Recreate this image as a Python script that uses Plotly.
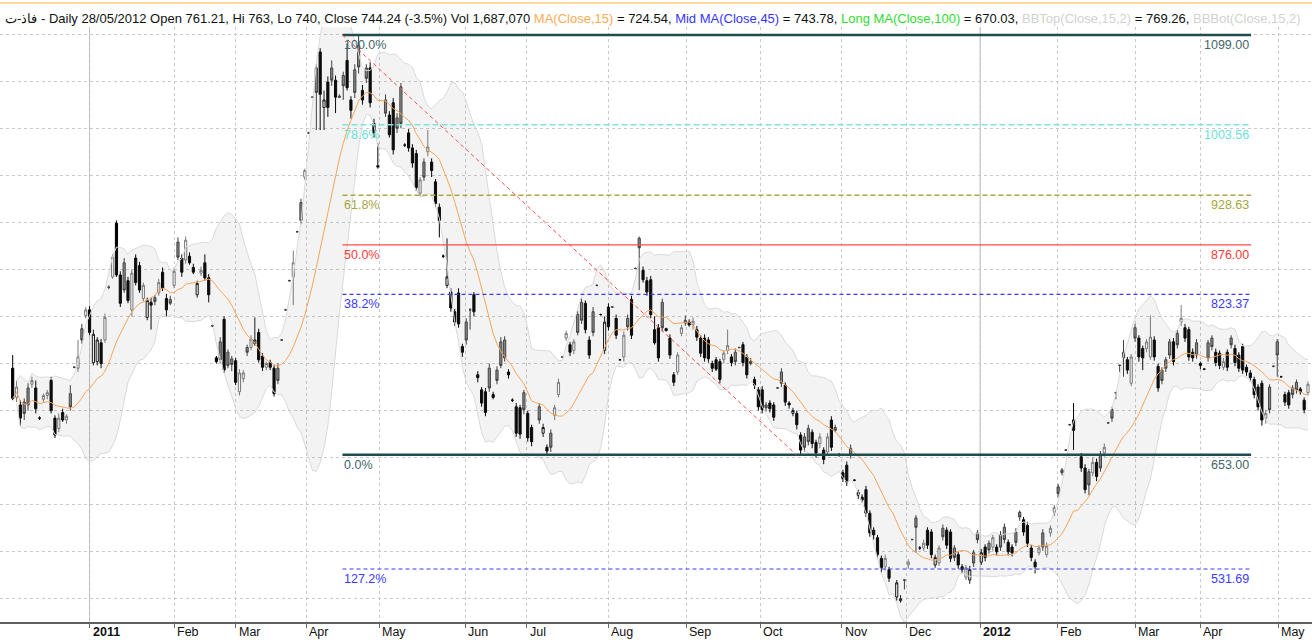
import numpy as np
import pandas as pd
import plotly.graph_objects as go

# ---------------- data: daily candles (trading-day index) ----------------
opens = [
    745, 714, 706, 709, 724, 728, 724, 692, 712, 716, 732, 692, 681, 698, 690, 718, 746, 745, 787, 801,
    807, 751, 752, 772, 775, 831, 842, 899, 844, 857, 838, 807, 862, 854, 819, 799, 815, 820, 825, 847, 819, 818, 833,
    879, 862, 860, 864, 852, 823, 846, 857, 841, 790, 756, 773, 797, 762, 755, 753,
    720, 734, 767, 767, 771, 783, 758, 746, 751, 745, 745, 775, 807, 838, 842, 890, 921, 948, 995,
    1033, 1064, 1081, 1022, 1049, 1064, 1051, 1034, 1056, 1072, 1030, 1062, 1088, 1040, 1064, 1064, 1005, 960,
    None, 1030, 1014, 1027, 1011, 1044, 982, 995, 979, 973, 931, 964, 975, 964, 943, 916, 864, 833, 826, 805, 825,
    768, 794, 807, 823, 738, 722, 720, 745, 717, 743, 773, 775, 741, 711, 704, 703, 719, 697, 682,
    None,
    704, 676, 661, 676, 695, 717, 757, 777, 770, 764, 802, 815, 814, 775, 805, 833, 802, 764, 810, 810, 798, 754, 757, 798, 818, 851,
    883, 849, 838, 839, 786, 788, 815, 787, 777, 738, 741, 782, 796, 794, 791, 786, 777, 777, 775, 750,
    754, 752, 754, 764, 757, 762, 767, 770, 757, 752, 733, 722, 722, 706, 708, 706, 724, 741, 727, 708, 697, 697, 674,
    672, 681, 677, 666, 665, 658, 656, 690, 682, 653, 634, 642, 660, 626, 610, 608, 616, 591, 573, 565, 543, 534, 531,
    None,
    502, 498, 520, 536, 563, 586, 554, 554, 573, 571, 536, 538, 575, 573, 571, 554, 547, 534, 523, 520, 549, 570,
    539, 555, 559, 555, 555, 568, 576, 560, 555, 571, 592, 584, 578, 554, 539, 549, 570, 547, 570, 592, 619, 637, 658, 685, 690,
    None,
    651, 639, 635, 634, 645, 653, 655, 687, 701, 719, 748, 762, 754, 729, 788, 777, 766, 766, 757, 775,
    747, 743, 754, 773, 773, 782, 794, 788, 786, 762, 772, 750, 744, 772, 777, 762, 761, 746, 762, 777,
    766, 759, 768, 746, 740, 733, 725, 729, 692, 725, 747, 773, 736, 717, 719, 724, 730, 723, 711, 719,
]
highs = [
    759, 732, 711, 713, 729, 736, 732, 694, 718, 722, 736, 695, 697, 702, 696, 727, 747, 775, 792, 810,
    811, 786, 778, 776, 803, 833, 866, 902, 848, 862, 842, 850, 866, 858, 836, 820, 820, 823, 840, 852, 824, 822, 852,
    884, 866, 885, 868, 856, 838, 853, 866, 845, 791, 758, 778, 800, 765, 758, 756,
    744, 743, 770, 780, 799, 787, 761, 752, 754, 748, 750, 776, 808, 839, 870, 891, 925, 957, 996,
    1034, 1068, 1085, 1040, 1055, 1072, 1056, 1036, 1060, 1090, 1034, 1068, 1099, 1046, 1068, 1070, 1010, 984,
    None, 1036, 1018, 1032, 1016, 1048, 984, 999, 983, 977, 948, 968, 998, 968, 946, 920, 866, 883, 830, 808, 830,
    771, 798, 809, 826, 742, 725, 724, 750, 720, 747, 778, 779, 744, 713, 708, 706, 722, 700, 685,
    None,
    708, 686, 664, 680, 706, 734, 758, 785, 773, 776, 806, 819, 817, 779, 810, 834, 803, 800, 814, 811, 802, 755, 784, 802, 822, 852,
    885, 853, 842, 843, 800, 792, 819, 788, 781, 741, 762, 791, 801, 797, 799, 790, 780, 781, 778, 753,
    757, 755, 764, 786, 760, 766, 768, 773, 760, 756, 736, 725, 726, 709, 711, 709, 725, 745, 730, 710, 703, 700, 677,
    676, 685, 680, 669, 676, 661, 676, 694, 685, 655, 637, 646, 664, 627, 616, 611, 620, 594, 576, 568, 546, 547, 534,
    None,
    520, 504, 521, 542, 564, 589, 556, 563, 576, 574, 547, 557, 579, 576, 574, 557, 550, 537, 536, 535, 552, 573,
    553, 558, 562, 568, 558, 572, 580, 563, 558, 575, 594, 587, 582, 557, 542, 557, 574, 560, 578, 600, 622, 639, 659, 686, 708,
    None,
    655, 643, 638, 650, 649, 657, 665, 688, 704, 720, 749, 775, 757, 760, 792, 780, 769, 776, 801, 779,
    750, 746, 757, 776, 777, 786, 812, 792, 789, 766, 776, 752, 745, 775, 780, 766, 764, 756, 765, 780,
    770, 762, 771, 749, 743, 736, 728, 732, 701, 728, 748, 776, 737, 720, 722, 727, 733, 725, 714, 731,
]
lows = [
    711, 709, 684, 690, 700, 724, 697, 690, 709, 712, 697, 671, 677, 688, 686, 700, 745, 741, 771, 798,
    780, 748, 748, 745, 772, 829, 840, 842, 810, 825, 814, 800, 833, 825, 816, 796, 786, 812, 822, 827, 800, 812, 830,
    860, 842, 856, 855, 845, 820, 843, 838, 815, 789, 750, 750, 740, 745, 742, 727,
    716, 730, 758, 764, 769, 751, 742, 743, 743, 715, 728, 774, 806, 837, 812, 889, 898, 945, 994,
    1032, 998, 998, 998, 1012, 1045, 1016, 1032, 1030, 1040, 1010, 1032, 1058, 1025, 1048, 1022, 990, 957,
    None, 1012, 990, 972, 995, 1000, 980, 975, 958, 933, 928, 944, 970, 948, 916, 884, 862, 830, 805, 790, 788,
    757, 770, 786, 800, 730, 704, 694, 720, 712, 728, 745, 752, 734, 709, 672, 670, 696, 667, 662,
    None,
    686, 672, 653, 656, 690, 714, 756, 774, 758, 760, 780, 792, 782, 755, 779, 832, 801, 760, 785, 809, 776, 753, 752, 785, 776, 850,
    828, 836, 822, 798, 770, 752, 784, 784, 755, 726, 738, 779, 790, 789, 786, 774, 757, 752, 751, 741,
    742, 729, 750, 760, 747, 748, 766, 747, 734, 748, 723, 700, 697, 699, 698, 689, 723, 725, 705, 702, 694, 680, 653,
    656, 663, 660, 650, 660, 643, 652, 657, 677, 651, 624, 620, 649, 625, 606, 602, 587, 566, 563, 543, 528, 530, 518,
    None,
    498, 496, 510, 532, 562, 549, 552, 551, 553, 543, 533, 535, 562, 553, 539, 540, 532, 527, 520, 516, 534, 559,
    536, 540, 548, 551, 546, 551, 559, 546, 545, 556, 583, 567, 555, 540, 527, 546, 551, 544, 566, 588, 608, 631, 657, 684, 658,
    None,
    635, 612, 610, 630, 625, 635, 651, 686, 688, 712, 741, 736, 739, 726, 773, 752, 743, 762, 754, 753,
    720, 728, 741, 755, 748, 766, 790, 773, 753, 752, 755, 744, 743, 752, 764, 747, 744, 743, 742, 766,
    747, 741, 739, 737, 731, 713, 700, 684, 686, 697, 746, 736, 735, 705, 702, 713, 718, 717, 697, 716,
]
closes = [
    713, 725, 692, 697, 706, 732, 702, 692, 716, 719, 700, 674, 692, 690, 694, 704, 746, 757, 775, 807,
    783, 781, 775, 750, 799, 831, 863, 844, 814, 828, 817, 846, 836, 828, 833, 817, 812, 816, 836, 830, 807, 814, 848,
    863, 847, 881, 857, 847, 835, 849, 841, 823, 790, 752, 754, 743, 748, 749, 730,
    740, 740, 762, 776, 775, 754, 746, 750, 746, 718, 732, 775, 807, 838, 857, 890, 902, 955, 995,
    1033, 1038, 1036, 1030, 1022, 1051, 1033, 1033, 1045, 1043, 1019, 1038, 1065, 1030, 1053, 1027, 995, 959,
    None, 1016, 993, 977, 1000, 1005, 982, 979, 963, 937, 945, 948, 980, 955, 920, 902, 864, 842, 809, 794, 792,
    762, 775, 807, 805, 735, 708, 698, 724, 714, 732, 748, 756, 738, 711, 676, 675, 701, 671, 667,
    None,
    690, 682, 657, 661, 703, 730, 757, 782, 762, 773, 783, 796, 786, 759, 783, 833, 802, 794, 789, 810, 780, 754, 780, 789, 780, 851,
    873, 839, 826, 802, 772, 756, 788, 785, 759, 730, 759, 788, 793, 791, 795, 778, 761, 756, 755, 745,
    744, 733, 761, 769, 751, 752, 767, 751, 738, 750, 727, 704, 701, 703, 702, 693, 724, 729, 709, 706, 700, 685, 658,
    661, 667, 665, 655, 672, 648, 672, 661, 679, 653, 628, 624, 653, 626, 613, 605, 591, 570, 568, 547, 533, 543, 522,
    None,
    517, 500, 520, 539, 563, 576, 554, 559, 557, 547, 544, 554, 566, 557, 543, 544, 536, 531, 533, 531, 538, 563,
    549, 544, 552, 565, 550, 555, 563, 550, 549, 560, 587, 571, 559, 544, 534, 554, 555, 556, 575, 597, 612, 634, 658, 685, 679,
    None,
    639, 616, 621, 645, 630, 639, 661, 687, 692, 719, 748, 756, 743, 757, 777, 757, 756, 773, 778, 757,
    724, 732, 745, 759, 752, 770, 798, 777, 757, 756, 759, 748, 744, 756, 768, 751, 748, 752, 746, 770,
    751, 745, 743, 741, 735, 717, 704, 690, 697, 701, 747, 759, 736, 709, 706, 717, 722, 720, 701, 728,
]

month_labels = ["2011", "Feb", "Mar", "Apr", "May", "Jun", "Jul", "Aug", "Sep", "Oct",
                "Nov", "Dec", "2012", "Feb", "Mar", "Apr", "May"]
month_pos = [20.0, 42.0, 58.0, 76.4, 95.4, 117.7, 133.7, 154.9, 175.2, 194.5,
             215.7, 232.5, 251.7, 271.8, 292.0, 309.0, 329.2]
year_labels = ["2011", "2012"]

fib_high = 1099.0
fib_low = 653.0
fib_ratios = [1.0, 0.786, 0.618, 0.5, 0.382, 0.0, -0.272]
fib_names = ["100.0%", "78.6%", "61.8%", "50.0%", "38.2%", "0.0%", "127.2%"]
fib_x0 = 85.8
fib_x1 = 322.2
trend_x = [85.8, 203.9]
trend_y = [1099.0, 653.0]

x_range = [-3.30, 338.04]
y_range = [475.4, 1107.5]

# ---------------- styles ----------------
FONT = "Liberation Sans, Arial, sans-serif"
fib_line_colors = ["#1f4c4c", "#7fe4dd", "#aaa84a", "#ff4a4a", "#3a3aff", "#1f4c4c", "#3a3aff"]
fib_text_colors = ["#45666b", "#6fe0d8", "#a8a640", "#ff3a3a", "#3a3aff", "#45666b", "#3a3aff"]
fib_dash = ["solid", "6px,3px", "5px,3px", "solid", "4px,3px", "solid", "4px,3px"]
fib_width = [2.5, 1.5, 1.5, 1.2, 1.2, 2.5, 1.2]

# ---------------- derived ----------------
o = pd.Series(opens, dtype=float)
h = pd.Series(highs, dtype=float)
l = pd.Series(lows, dtype=float)
c = pd.Series(closes, dtype=float)
n = len(c)
idx = np.arange(n)

ma15 = c.rolling(15, min_periods=1).mean()
sd15 = c.rolling(15, min_periods=2).std(ddof=0)
bb_top = ma15 + 2 * sd15
bb_bot = ma15 - 2 * sd15

prev_c = c.ffill().shift(1)
valid = c.notna()
hollow = valid & (c > o)
filled = valid & ~(c > o)
up_prev = (c >= prev_c).fillna(False)

fig = go.Figure()

# Bollinger band
fig.add_trace(go.Scatter(x=idx, y=bb_bot, mode="lines", line=dict(color="#dadada", width=1),
                         hoverinfo="skip", showlegend=False))
fig.add_trace(go.Scatter(x=idx, y=bb_top, mode="lines", line=dict(color="#dadada", width=1),
                         fill="tonexty", fillcolor="rgba(120,120,120,0.09)",
                         hoverinfo="skip", showlegend=False))
# MA(15)
fig.add_trace(go.Scatter(x=idx, y=ma15, mode="lines", line=dict(color="#f7a55c", width=1),
                         hoverinfo="skip", showlegend=False))


def add_candles(mask, fill, edge):
    m = mask.values
    fig.add_trace(go.Candlestick(
        x=idx[m], open=o[m], high=h[m], low=l[m], close=c[m],
        increasing=dict(fillcolor=fill, line=dict(color=edge, width=1)),
        decreasing=dict(fillcolor=fill, line=dict(color=edge, width=1)),
        whiskerwidth=0, hoverinfo="skip", showlegend=False))


add_candles(hollow & up_prev, "#ffffff", "#7a7a7a")
add_candles(hollow & ~up_prev, "#ffffff", "#111111")
add_candles(filled & up_prev, "#8c8c8c", "#3c3c3c")
add_candles(filled & ~up_prev, "#000000", "#000000")

# Fibonacci retracement
annotations = []
for ratio, name, lc, tc, dash, w in zip(fib_ratios, fib_names, fib_line_colors,
                                         fib_text_colors, fib_dash, fib_width):
    level = fib_low + ratio * (fib_high - fib_low)
    fig.add_trace(go.Scatter(x=[fib_x0, fib_x1], y=[level, level], mode="lines",
                             line=dict(color=lc, width=w, dash=dash),
                             hoverinfo="skip", showlegend=False))
    annotations.append(dict(x=fib_x0, y=level, xref="x", yref="y", text=name,
                            showarrow=False, xanchor="left", yanchor="top", yshift=-1,
                            font=dict(family=FONT, size=12.5, color=tc)))
    annotations.append(dict(x=fib_x1, y=level, xref="x", yref="y", text=f"{level:.2f}",
                            showarrow=False, xanchor="right", yanchor="top", yshift=-1,
                            font=dict(family=FONT, size=12.5, color=tc)))

fig.add_trace(go.Scatter(x=trend_x, y=trend_y, mode="lines",
                         line=dict(color="#ff4d4d", width=1, dash="4px,3px"),
                         hoverinfo="skip", showlegend=False))

# month labels
for lab, pos in zip(month_labels, month_pos):
    txt = f"<b>{lab}</b>" if lab in year_labels else lab
    annotations.append(dict(x=pos, y=-0.0175, xref="x", yref="paper", text=txt,
                            showarrow=False, xanchor="left", yanchor="middle", xshift=1,
                            font=dict(family=FONT, size=12.5, color="#111111")))

# header (the source chart's header runs past the right edge)
header = ("فاذ-ت - Daily 28/05/2012 Open 761.21, Hi 763, Lo 740, Close 744.24 (-3.5%) Vol 1,687,070 "
          "<span style='color:#ffaa55'>MA(Close,15)</span> = 724.54, "
          "<span style='color:#3535ff'>Mid MA(Close,45)</span> = 743.78, "
          "<span style='color:#2fdc2f'>Long MA(Close,100)</span> = 670.03, "
          "<span style='color:#d2d2d2'>BBTop(Close,15,2)</span> = 769.26, "
          "<span style='color:#d2d2d2'>BBBot(Close,15,2)</span>")
annotations.append(dict(x=0, y=1.0151, xref="paper", yref="paper", text=header,
                        showarrow=False, xanchor="left", yanchor="middle", xshift=3,
                        font=dict(family=FONT, size=13, color="#111111")))

shapes = []
for lab, pos in zip(month_labels, month_pos):
    if lab in year_labels:
        shapes.append(dict(type="line", xref="x", yref="paper", x0=pos, x1=pos, y0=0, y1=1,
                           line=dict(color="#b6b6b6", width=1), layer="below"))
shapes.append(dict(type="line", xref="paper", yref="paper", x0=0, x1=1, y0=1.0403, y1=1.0403,
                   line=dict(color="#fbd89c", width=2)))

fig.update_layout(
    width=1312, height=640,
    margin=dict(l=0, r=0, t=27, b=18),
    paper_bgcolor="white", plot_bgcolor="white",
    showlegend=False,
    annotations=annotations,
    shapes=shapes,
    boxgap=0.2,
    xaxis=dict(range=x_range, tickvals=month_pos, showticklabels=False,
               ticks="outside", ticklen=4, tickcolor="#666666", tickwidth=1,
               showgrid=True, gridcolor="#c9c9c9", griddash="dot", gridwidth=1,
               showline=True, linecolor="#606060", linewidth=2,
               zeroline=False, rangeslider=dict(visible=False), fixedrange=True),
    yaxis=dict(range=y_range, dtick=50, tick0=0, showticklabels=False, ticks="",
               showgrid=True, gridcolor="#c9c9c9", griddash="dot", gridwidth=1,
               zeroline=False, showline=False, fixedrange=True),
)

fig.write_html("out.html")
